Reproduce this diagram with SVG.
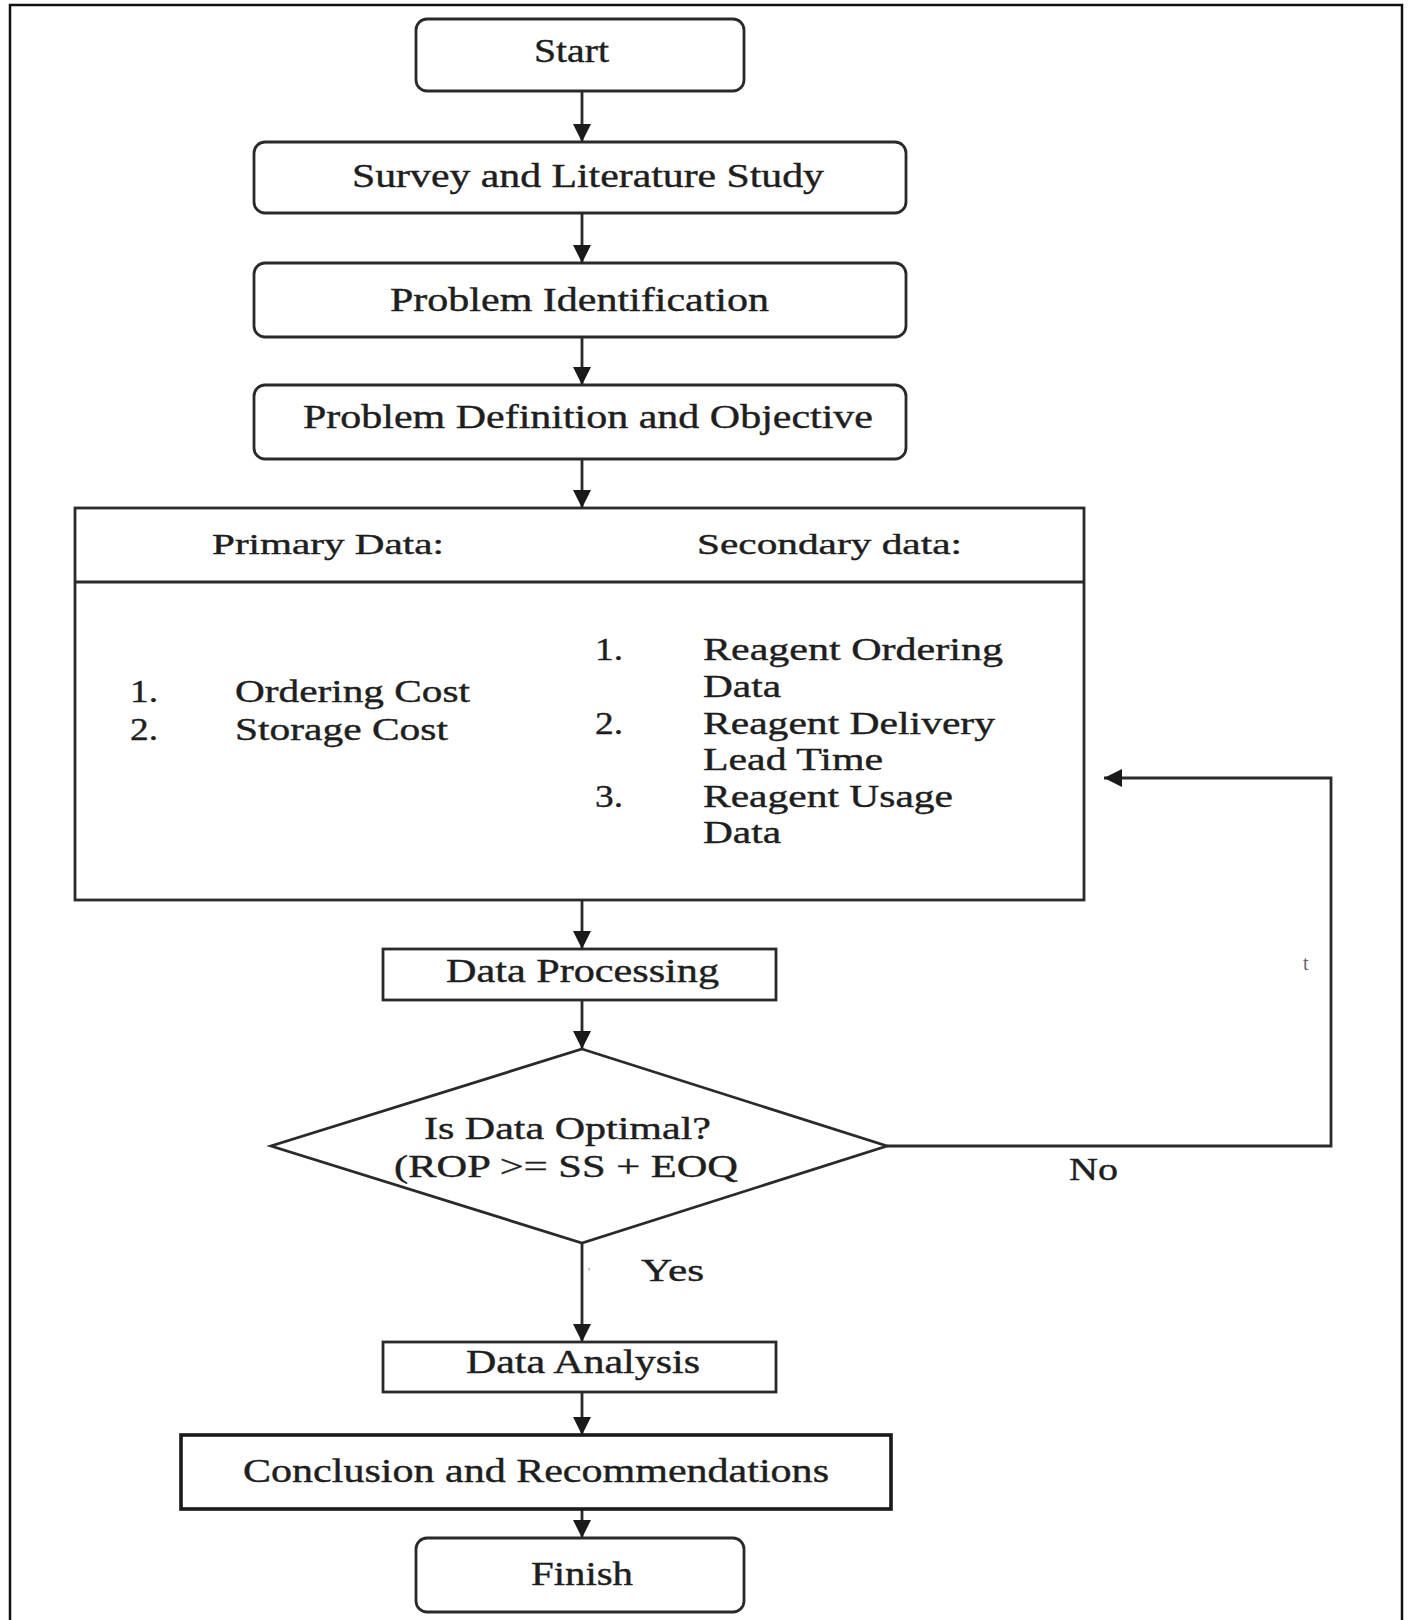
<svg xmlns="http://www.w3.org/2000/svg" width="1408" height="1620" viewBox="0 0 1408 1620">
<defs>
<marker id="ah" markerWidth="18" markerHeight="18" refX="18" refY="9" orient="auto" markerUnits="userSpaceOnUse">
<path d="M0,0 L18,9 L0,18 Z" fill="#1a1a1a"/>
</marker>
<style>
.box{fill:#fff;stroke:#2a2a2a;stroke-width:2.8}
.thick{fill:#fff;stroke:#1a1a1a;stroke-width:3.6}
.ln{fill:none;stroke:#2a2a2a;stroke-width:2.8}
.t{font-family:"Liberation Serif","Times New Roman",serif;font-size:33px;fill:#1e1e1e;stroke:#1e1e1e;stroke-width:0.4}
.h{font-family:"Liberation Serif","Times New Roman",serif;font-size:29px;fill:#1e1e1e;stroke:#1e1e1e;stroke-width:0.4}
.l{font-family:"Liberation Serif","Times New Roman",serif;font-size:31px;fill:#1e1e1e;stroke:#1e1e1e;stroke-width:0.4}
</style>
</defs>
<rect x="0" y="0" width="1408" height="1620" fill="#fff"/>
<rect x="10" y="5" width="1392" height="1630" fill="none" stroke="#111" stroke-width="2.5"/>

<g id="connectors">
<line class="ln" x1="582" y1="91" x2="582" y2="142" marker-end="url(#ah)"/>
<line class="ln" x1="582" y1="213" x2="582" y2="263" marker-end="url(#ah)"/>
<line class="ln" x1="582" y1="337" x2="582" y2="385" marker-end="url(#ah)"/>
<line class="ln" x1="582" y1="459" x2="582" y2="508" marker-end="url(#ah)"/>
<line class="ln" x1="582" y1="582" x2="582" y2="949" marker-end="url(#ah)"/>
<line class="ln" x1="582" y1="1000" x2="582" y2="1049" marker-end="url(#ah)"/>
<line class="ln" x1="582" y1="1243" x2="582" y2="1342" marker-end="url(#ah)"/>
<line class="ln" x1="582" y1="1392" x2="582" y2="1435" marker-end="url(#ah)"/>
<line class="ln" x1="582" y1="1509" x2="582" y2="1538" marker-end="url(#ah)"/>
<polyline class="ln" points="887,1146 1331,1146 1331,778 1104,778" marker-end="url(#ah)"/>
<text class="l" x="1069" y="1180" textLength="49" lengthAdjust="spacingAndGlyphs">No</text>
<text class="l" x="641" y="1281" textLength="63" lengthAdjust="spacingAndGlyphs">Yes</text>
<text x="1303" y="970" font-family="Liberation Serif, serif" font-size="20" fill="#666">t</text>
<text x="588" y="1276" font-family="Liberation Serif, serif" font-size="12" fill="#888">'</text>
</g>

<g id="start">
<rect class="box" x="416" y="19" width="328" height="72" rx="11"/>
<text class="t" x="534" y="62" textLength="75" lengthAdjust="spacingAndGlyphs">Start</text>
</g>
<g id="survey">
<rect class="box" x="254" y="142" width="652" height="71" rx="11"/>
<text class="t" x="352" y="187" textLength="472" lengthAdjust="spacingAndGlyphs">Survey and Literature Study</text>
</g>
<g id="problem-identification">
<rect class="box" x="254" y="263" width="652" height="74" rx="11"/>
<text class="t" x="390" y="311" textLength="379" lengthAdjust="spacingAndGlyphs">Problem Identification</text>
</g>
<g id="problem-definition">
<rect class="box" x="254" y="385" width="652" height="74" rx="11"/>
<text class="t" x="303" y="428" textLength="570" lengthAdjust="spacingAndGlyphs">Problem Definition and Objective</text>
</g>

<g id="data-table">
<rect class="box" x="75" y="508" width="1009" height="392"/>
<line class="ln" x1="75" y1="582" x2="1084" y2="582"/>
<text class="h" x="212" y="554" textLength="232" lengthAdjust="spacingAndGlyphs">Primary Data:</text>
<text class="h" x="697" y="554" textLength="265" lengthAdjust="spacingAndGlyphs">Secondary data:</text>
<text class="l" x="130" y="702" textLength="28" lengthAdjust="spacingAndGlyphs">1.</text>
<text class="l" x="235" y="702" textLength="235" lengthAdjust="spacingAndGlyphs">Ordering Cost</text>
<text class="l" x="130" y="740" textLength="28" lengthAdjust="spacingAndGlyphs">2.</text>
<text class="l" x="235" y="740" textLength="213" lengthAdjust="spacingAndGlyphs">Storage Cost</text>
<text class="l" x="595" y="660" textLength="28" lengthAdjust="spacingAndGlyphs">1.</text>
<text class="l" x="703" y="660" textLength="300" lengthAdjust="spacingAndGlyphs">Reagent Ordering</text>
<text class="l" x="703" y="697" textLength="78" lengthAdjust="spacingAndGlyphs">Data</text>
<text class="l" x="595" y="734" textLength="28" lengthAdjust="spacingAndGlyphs">2.</text>
<text class="l" x="703" y="734" textLength="292" lengthAdjust="spacingAndGlyphs">Reagent Delivery</text>
<text class="l" x="703" y="770" textLength="180" lengthAdjust="spacingAndGlyphs">Lead Time</text>
<text class="l" x="595" y="807" textLength="28" lengthAdjust="spacingAndGlyphs">3.</text>
<text class="l" x="703" y="807" textLength="250" lengthAdjust="spacingAndGlyphs">Reagent Usage</text>
<text class="l" x="703" y="843" textLength="78" lengthAdjust="spacingAndGlyphs">Data</text>
</g>

<g id="data-processing">
<rect class="box" x="383" y="949" width="393" height="51"/>
<text class="t" x="446" y="982" textLength="273" lengthAdjust="spacingAndGlyphs">Data Processing</text>
</g>
<g id="decision">
<polygon class="box" points="582,1049 887,1146 582,1243 271,1146"/>
<text class="l" x="424" y="1139" textLength="287" lengthAdjust="spacingAndGlyphs">Is Data Optimal?</text>
<text class="l" x="394" y="1177" textLength="344" lengthAdjust="spacingAndGlyphs">(ROP &gt;= SS + EOQ</text>
</g>
<g id="data-analysis">
<rect class="box" x="383" y="1342" width="393" height="50"/>
<text class="t" x="466" y="1373" textLength="234" lengthAdjust="spacingAndGlyphs">Data Analysis</text>
</g>
<g id="conclusion">
<rect class="thick" x="181" y="1435" width="710" height="74"/>
<text class="t" x="243" y="1482" textLength="586" lengthAdjust="spacingAndGlyphs">Conclusion and Recommendations</text>
</g>
<g id="finish">
<rect class="box" x="416" y="1538" width="328" height="74" rx="11"/>
<text class="t" x="531" y="1585" textLength="102" lengthAdjust="spacingAndGlyphs">Finish</text>
</g>
</svg>
